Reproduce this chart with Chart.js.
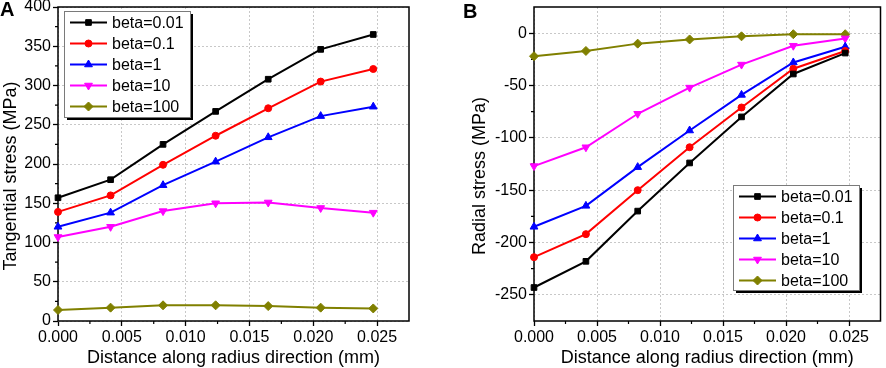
<!DOCTYPE html>
<html>
<head>
<meta charset="utf-8">
<script src="https://cdn.jsdelivr.net/npm/chart.js@4.4.1/dist/chart.umd.min.js"></script>
<style>
  body { margin: 0; background: #fff; }
  #wrap { position: relative; width: 886px; height: 368px; }
  canvas { position: absolute; top: 0; }
</style>
</head>
<body>
<div id="wrap">
  <canvas id="tanChart" width="446" height="368" style="left:0"></canvas>
  <canvas id="radChart" width="440" height="368" style="left:446px"></canvas>
</div>
<script>
// ── data ──
const distance = [0, 0.00412, 0.00823, 0.01235, 0.01647, 0.02058, 0.0247];
const betaLabels = ['beta=0.01', 'beta=0.1', 'beta=1', 'beta=10', 'beta=100'];

// A: tangential stress (MPa)
const tan001 = [157, 180, 225, 267, 308, 346, 365];
const tan01  = [139, 160, 199, 236, 271, 305, 321];
const tan1   = [120, 138, 173, 203, 234, 261, 273];
const tan10  = [107, 120, 140, 150, 151, 144, 138];
const tan100 = [14, 17, 20, 20, 19, 17, 16];

// B: radial stress (MPa)
const rad001 = [-243, -218, -170, -124, -80, -39, -19];
const rad01  = [-214, -192, -150, -109, -71, -34, -17];
const rad1   = [-185, -165, -128, -93, -59, -28, -13];
const rad10  = [-127, -109, -77, -52, -30, -12, -5];
const rad100 = [-22, -17, -10, -6, -3, -1, -1];

// tick labels
const xTicks  = [0, 0.005, 0.01, 0.015, 0.02, 0.025];
const yTicksA = [0, 50, 100, 150, 200, 250, 300, 350, 400];
const yTicksB = [-250, -200, -150, -100, -50, 0];

// ── styling ──
const FONT = '"Liberation Sans", Arial, Helvetica, sans-serif';
const colors = ['#000000', '#ff0000', '#0000ff', '#ff00ff', '#808000'];
const markers = [
  { style: 'rect', r: 4, rot: 0 },
  { style: 'circle', r: 3.5, rot: 0 },
  { style: 'triangle', r: 4.5, rot: 0 },
  { style: 'triangle', r: 4.5, rot: 180 },
  { style: 'rectRot', r: 4.5, rot: 0 }
];

function makeSets(series) {
  return series.map((vals, i) => ({
    label: betaLabels[i],
    data: vals.map((v, j) => ({ x: distance[j], y: v })),
    showLine: true,
    borderColor: colors[i], backgroundColor: colors[i],
    borderWidth: 2,
    pointStyle: markers[i].style, pointRadius: markers[i].r, pointRotation: markers[i].rot,
    pointBackgroundColor: colors[i], pointBorderColor: colors[i], pointBorderWidth: 1,
    clip: false
  }));
}

// frame, minor ticks, panel letter, axis titles, boxed legend
const decor = {
  id: 'decor',
  beforeDatasetsDraw(chart, args, o) {
    const { ctx, chartArea: a, scales: { x, y } } = chart;
    ctx.save();
    ctx.strokeStyle = '#000';
    ctx.lineWidth = 1.2;
    ctx.beginPath();
    o.xMinor.forEach(v => { const px = x.getPixelForValue(v); ctx.moveTo(px, a.bottom); ctx.lineTo(px, a.bottom + 3); });
    o.yMinor.forEach(v => { const py = y.getPixelForValue(v); ctx.moveTo(a.left, py); ctx.lineTo(a.left - 3, py); });
    ctx.stroke();
    ctx.lineWidth = 1.5;
    ctx.strokeRect(a.left, a.top, a.right - a.left, a.bottom - a.top);
    ctx.restore();
  },
  afterDraw(chart, args, o) {
    const { ctx, chartArea: a } = chart;
    ctx.save();
    ctx.fillStyle = '#000';
    ctx.font = 'bold 20px ' + FONT;
    ctx.textAlign = 'left';
    ctx.textBaseline = 'alphabetic';
    ctx.fillText(o.letter, o.letterX, o.letterY);

    ctx.font = '18px ' + FONT;
    ctx.textAlign = 'center';
    ctx.textBaseline = 'middle';
    ctx.fillText(o.xTitle, (a.left + a.right) / 2, 358);

    ctx.save();
    ctx.translate(o.titleX, o.titleY);
    ctx.rotate(-Math.PI / 2);
    ctx.fillText(o.title, 0, 0);
    ctx.restore();

    // legend box
    const L = o.legend;
    ctx.fillStyle = '#000';
    ctx.fillRect(L.x + 3, L.y + 3, L.w, L.h);
    ctx.fillStyle = '#fff';
    ctx.fillRect(L.x, L.y, L.w, L.h);
    ctx.strokeStyle = '#7a7a7a';
    ctx.lineWidth = 1;
    ctx.strokeRect(L.x + 0.5, L.y + 0.5, L.w, L.h);
    ctx.font = '16px ' + FONT;
    ctx.textAlign = 'left';
    ctx.textBaseline = 'middle';
    chart.data.datasets.forEach((ds, i) => {
      const cy = L.y + 11.5 + i * 21;
      ctx.strokeStyle = ds.borderColor;
      ctx.fillStyle = ds.borderColor;
      ctx.lineWidth = 2;
      ctx.beginPath();
      ctx.moveTo(L.x + 6, cy);
      ctx.lineTo(L.x + 43, cy);
      ctx.stroke();
      ctx.lineWidth = 1;
      Chart.helpers.drawPoint(ctx, { pointStyle: ds.pointStyle, radius: ds.pointRadius, rotation: ds.pointRotation, borderWidth: 1 }, L.x + 24.5, cy);
      ctx.fillStyle = '#000';
      ctx.fillText(ds.label, L.x + 48, cy + 1);
    });
    ctx.restore();
  }
};

function minorOf(ticks, lo, hi) {
  const step = ticks[1] - ticks[0];
  const out = [];
  ticks.forEach(t => { [t - step / 2, t + step / 2].forEach(m => { if (m > lo && m < hi && !out.some(o => Math.abs(o - m) < 1e-9)) out.push(m); }); });
  return out;
}

function makeChart(id, series, yMin, yMax, yTicks, yWidth, padRight, deco) {
  const tickFont = { family: FONT, size: 16 };
  return new Chart(document.getElementById(id).getContext('2d'), {
    type: 'scatter',
    data: { datasets: makeSets(series) },
    options: {
      responsive: false,
      animation: false,
      devicePixelRatio: 1,
      layout: { padding: { left: 0, right: padRight, top: 7, bottom: 0 } },
      plugins: {
        legend: { display: false },
        tooltip: { enabled: false },
        decor: Object.assign({ xMinor: minorOf(xTicks, 0, 0.0275), yMinor: minorOf(yTicks, yMin, yMax), xTitle: 'Distance along radius direction (mm)' }, deco)
      },
      scales: {
        x: {
          type: 'linear', min: 0, max: 0.0275,
          afterBuildTicks: s => { s.ticks = xTicks.map(v => ({ value: v })); },
          afterFit: s => { s.height = 47; s.paddingLeft = 0; s.paddingRight = 0; },
          ticks: { font: tickFont, color: '#000', padding: 2, maxRotation: 0, autoSkip: false, callback: v => v.toFixed(3) },
          grid: { color: '#c8c8c8', lineWidth: 1, tickLength: 5, tickColor: '#000', tickWidth: 1.3 },
          border: { display: false, dash: [2, 2] }
        },
        y: {
          type: 'linear', min: yMin, max: yMax,
          afterBuildTicks: s => { s.ticks = yTicks.map(v => ({ value: v })); },
          afterFit: s => { s.width = yWidth; s.paddingTop = 0; s.paddingBottom = 0; },
          ticks: { font: tickFont, color: '#000', padding: 2, autoSkip: false },
          grid: { color: '#c8c8c8', lineWidth: 1, tickLength: 5, tickColor: '#000', tickWidth: 1.3 },
          border: { display: false, dash: [2, 2] }
        }
      }
    },
    plugins: [decor]
  });
}

makeChart('tanChart', [tan001, tan01, tan1, tan10, tan100], 0, 400, yTicksA, 58, 37, {
  letter: 'A', letterX: 0, letterY: 16,
  title: 'Tangential stress (MPa)', titleX: 11, titleY: 176,
  legend: { x: 64, y: 11, w: 126, h: 106 }
});

makeChart('radChart', [rad001, rad01, rad1, rad10, rad100], -275, 25, yTicksB, 88, 1, {
  letter: 'B', letterX: 17, letterY: 18,
  title: 'Radial stress (MPa)', titleX: 34, titleY: 176,
  legend: { x: 287, y: 185, w: 126, h: 105 }
});
</script>
</body>
</html>
